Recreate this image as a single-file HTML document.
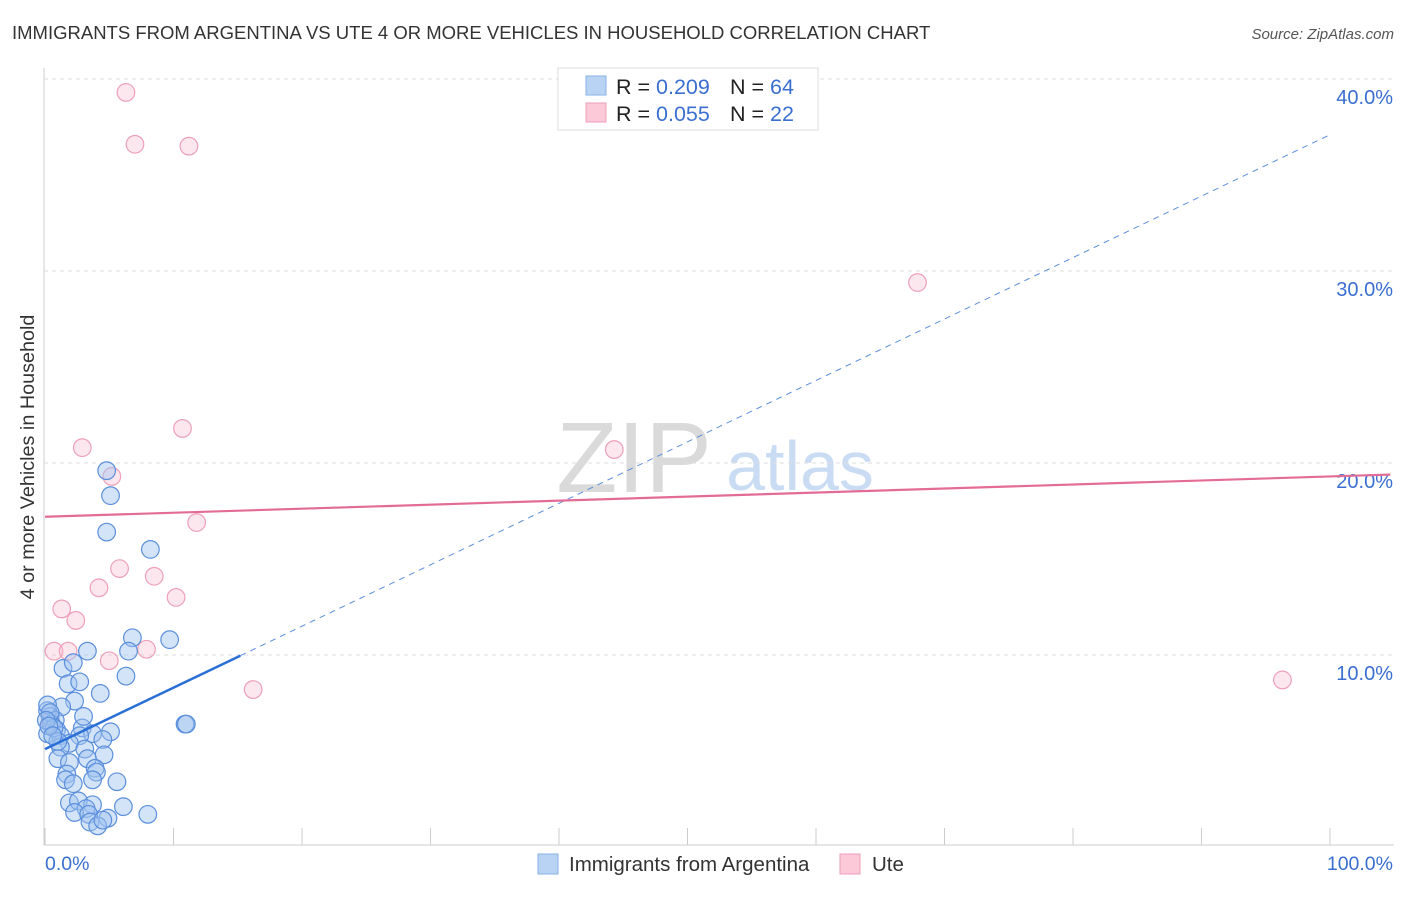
<!DOCTYPE html>
<html><head><meta charset="utf-8"><style>
body{margin:0;background:#fff;font-family:"Liberation Sans",sans-serif}
#wrap{position:relative;width:1406px;height:892px}
svg text{font-family:"Liberation Sans",sans-serif}
</style></head><body><div id="wrap">
<svg id="c" width="1406" height="892">
<text x="12" y="39" font-size="18.5" fill="#333">IMMIGRANTS FROM ARGENTINA VS UTE 4 OR MORE VEHICLES IN HOUSEHOLD CORRELATION CHART</text>
<text x="1394" y="39" font-size="15" fill="#555" font-style="italic" text-anchor="end">Source: ZipAtlas.com</text>
<text x="634" y="492" font-size="100" fill="#dadada" font-family="Liberation Serif" text-anchor="middle">ZIP</text>
<text x="800" y="490" font-size="70" fill="#c9dcf3" text-anchor="middle">atlas</text>
<text transform="translate(34,457) rotate(-90)" font-size="19.8" fill="#333" text-anchor="middle">4 or more Vehicles in Household</text>
<g id="grid"></g><g id="pts"></g><g id="lines"></g>
<g>
<rect x="558" y="68" width="260" height="62" fill="#fff" stroke="#ddd"/>
<rect x="586" y="76" width="20" height="19" fill="#b9d3f5" stroke="#8ab0e6"/>
<rect x="586" y="103" width="20" height="19" fill="#fbc9d8" stroke="#ee9db6"/>
<text x="616" y="94" font-size="21.5" fill="#222">R = <tspan fill="#3a6fd0">0.209</tspan><tspan x="730">N = </tspan><tspan fill="#3a6fd0">64</tspan></text>
<text x="616" y="121" font-size="21.5" fill="#222">R = <tspan fill="#3a6fd0">0.055</tspan><tspan x="730">N = </tspan><tspan fill="#3a6fd0"> 22</tspan></text>
</g>
<g>
<rect x="538" y="854" width="20" height="20" fill="#b9d3f5" stroke="#8ab0e6"/>
<text x="569" y="871" font-size="20.5" fill="#333">Immigrants from Argentina</text>
<rect x="840" y="854" width="20" height="20" fill="#fbc9d8" stroke="#ee9db6"/>
<text x="872" y="871" font-size="20.5" fill="#333">Ute</text>
</g>
<text x="45" y="870" font-size="19.5" fill="#3a6fd0">0.0%</text>
<text x="1393" y="870" font-size="19.5" fill="#3a6fd0" text-anchor="end">100.0%</text>
</svg></div>
<script>
const yTicks=[10,20,30,40];
const yTickLabels=["10.0%","20.0%","30.0%","40.0%"];
const xTicks=[0,10,20,30,40,50,60,70,80,90,100];
const blueX=[4.8,5.1,4.8,8.2,6.8,9.7,6.5,3.3,1.4,2.2,6.3,1.8,2.7,4.3,2.3,1.3,0.2,0.4,0.8,0.5,0.9,0.2,1.2,2.9,3.7,5.1,2.7,4.5,1.9,1.2,3.1,4.6,1.0,3.3,1.9,3.9,1.7,4.0,1.6,2.2,3.7,5.6,1.9,2.6,3.7,6.1,3.2,2.3,3.4,8.0,4.9,3.5,4.1,4.5,10.9,11.0,0.2,0.4,0.7,1.0,3.0,0.1,0.3,0.6];
const blueY=[19.6,18.3,16.4,15.5,10.9,10.8,10.2,10.2,9.3,9.6,8.9,8.5,8.6,8.0,7.6,7.3,7.1,6.8,6.6,6.4,6.1,5.9,5.8,6.2,5.9,6.0,5.8,5.6,5.4,5.2,5.1,4.8,4.6,4.6,4.4,4.1,3.8,3.9,3.5,3.3,3.5,3.4,2.3,2.4,2.2,2.1,2.0,1.8,1.7,1.7,1.5,1.3,1.1,1.4,6.4,6.4,7.4,7.0,6.2,5.5,6.8,6.6,6.3,5.8];
const pinkX=[6.3,7.0,11.2,67.9,2.9,10.7,44.3,5.2,11.8,5.8,8.5,4.2,10.2,1.3,2.4,0.7,1.8,7.9,5.0,16.2,96.3,0.4];
const pinkY=[39.3,36.6,36.5,29.4,20.8,21.8,20.7,19.3,16.9,14.5,14.1,13.5,13.0,12.4,11.8,10.2,10.2,10.3,9.7,8.2,8.7,6.5];
const blueFit=[5.1,0.32];
const pinkFit=[17.2,0.021];
const X=v=>45+v*12.85, Y=v=>847-v*19.2;
const NS="http://www.w3.org/2000/svg";
function mk(t,a,p){const e=document.createElementNS(NS,t);for(const k in a)e.setAttribute(k,a[k]);p.appendChild(e);return e;}
const g=document.getElementById('grid'),pg=document.getElementById('pts'),lg=document.getElementById('lines');
let ax=mk('line',{x1:44,y1:68,x2:44,y2:845,stroke:'#ccc'},g);


let bx=mk('line',{x1:44,y1:845,x2:1394,y2:845,stroke:'#ccc'},g);


yTicks.forEach((v,i)=>{
 let l=mk('line',{x1:44,y1:Y(v),x2:1394,y2:Y(v),stroke:'#ddd','stroke-dasharray':'4,4'},g);
 
 
 let t=mk('text',{x:1393,y:Y(v)+25,'font-size':20,fill:'#3a6fd0','text-anchor':'end'},g);t.textContent=yTickLabels[i];
 
 
});
xTicks.forEach(v=>{
 let l=mk('line',{x1:X(v),y1:828,x2:X(v),y2:845,stroke:'#ccc'},g);
 
 
});
pinkX.forEach((v,i)=>{
 let c=mk('circle',{cx:X(v),cy:Y(pinkY[i]),r:8.8,fill:'rgba(248,185,205,0.35)',stroke:'#eda0b8','stroke-width':1.2},pg);
 
 
});
blueX.forEach((v,i)=>{
 let c=mk('circle',{cx:X(v),cy:Y(blueY[i]),r:8.8,fill:'rgba(160,195,240,0.45)',stroke:'#5b8fdc','stroke-width':1.2},pg);
 
 
});
let b1=mk('line',{x1:X(0),y1:Y(blueFit[0]),x2:X(15.2),y2:Y(blueFit[0]+blueFit[1]*15.2),stroke:'#2a6fd6','stroke-width':2.5},lg);


let b2=mk('line',{x1:X(15.2),y1:Y(blueFit[0]+blueFit[1]*15.2),x2:X(100),y2:Y(blueFit[0]+blueFit[1]*100),stroke:'#5b8fdc','stroke-width':1,'stroke-dasharray':'6,5'},lg);


let p1=mk('line',{x1:X(0),y1:Y(pinkFit[0]),x2:X(104.7),y2:Y(pinkFit[0]+pinkFit[1]*104.7),stroke:'#e36c96','stroke-width':2.2},lg);


</script></body></html>
